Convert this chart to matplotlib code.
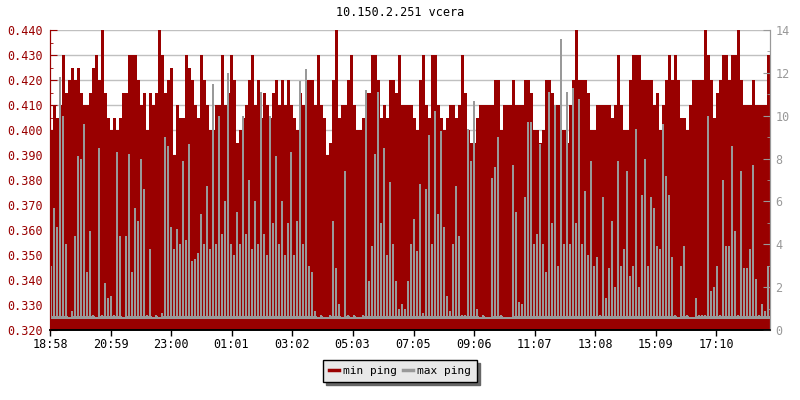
import numpy as np
import matplotlib
matplotlib.use('Agg')
import matplotlib.pyplot as plt
from matplotlib.lines import Line2D

title = '10.150.2.251 vcera'
time_labels = ['18:58', '20:59', '23:00', '01:01', '03:02', '05:03',
               '07:05', '09:06', '11:07', '13:08', '15:09', '17:10']
step_minutes = 6

# min ping, in microseconds (left axis, shown as ms)
min_ping = [400, 410, 405, 410, 430, 415, 420, 425, 420, 425, 415, 410, 410, 415, 425, 430, 420, 440, 415, 405,
            400, 405, 400, 405, 415, 415, 430, 430, 430, 420, 410, 415, 400, 415, 410, 415, 440, 430, 415, 420,
            425, 390, 410, 405, 405, 430, 425, 420, 410, 405, 430, 420, 410, 400, 400, 410, 410, 430, 410, 415,
            430, 420, 395, 400, 405, 410, 420, 430, 410, 420, 405, 415, 410, 405, 415, 420, 410, 420, 410, 420,
            410, 405, 400, 415, 410, 420, 420, 420, 410, 430, 410, 405, 390, 395, 420, 440, 405, 410, 410, 420,
            430, 410, 400, 400, 405, 415, 415, 430, 430, 420, 405, 410, 405, 420, 420, 415, 430, 410, 410, 410,
            410, 405, 400, 420, 430, 410, 405, 430, 430, 410, 405, 400, 405, 410, 410, 405, 410, 430, 415, 400,
            395, 395, 405, 410, 410, 410, 410, 410, 420, 420, 400, 410, 410, 410, 420, 410, 410, 410, 420, 420,
            415, 400, 400, 395, 400, 420, 420, 415, 410, 410, 400, 400, 395, 410, 420, 440, 420, 420, 420, 415,
            400, 400, 410, 410, 410, 410, 410, 405, 410, 430, 410, 400, 400, 420, 430, 430, 430, 420, 420, 420,
            420, 410, 415, 400, 410, 420, 430, 420, 430, 420, 405, 405, 400, 410, 420, 420, 420, 420, 440, 430,
            420, 405, 415, 420, 430, 430, 420, 430, 430, 440, 420, 410, 410, 410, 420, 410, 410, 410, 410, 430]

# max ping, in ms (right axis)
max_ping = [3, 5.7, 4.8, 11.8, 10, 4, 0.6, 0.9, 4.4, 8.1, 8, 9.6, 2.7, 4.6, 0.7, 0.6, 8.5, 0.7, 2.2, 1.5,
            1.6, 0.7, 8.3, 4.4, 0.6, 4.4, 8.2, 2.7, 5.7, 5.1, 8, 6.6, 0.7, 3.8, 0.6, 0.7, 0.6, 0.8, 9, 8.6,
            4.8, 3.8, 4.7, 4, 7.9, 4.2, 8.7, 3.2, 3.3, 3.6, 5.4, 4, 6.7, 3.8, 11.5, 4, 10, 4.5, 6, 12,
            4, 3.5, 5.5, 4, 10, 4.5, 7, 3.8, 6, 4, 11.1, 4.5, 3.5, 10, 5, 8.1, 4, 6, 3.5, 5,
            8.3, 3.5, 5.1, 11.6, 4, 12.2, 3, 2.7, 0.9, 0.6, 0.7, 0.6, 0.6, 0.7, 5.1, 2.9, 1.2, 0.6, 7.4, 0.7,
            0.6, 0.7, 0.6, 0.6, 0.7, 11.2, 2.3, 3.9, 8.2, 11.1, 5, 8.5, 3.5, 6.9, 4, 2.3, 1, 1.2, 1, 2.3,
            4, 5.2, 3.7, 6.8, 0.8, 6.6, 9.1, 4, 10.2, 5.4, 9.3, 4.8, 1.6, 0.9, 4, 6.7, 4.4, 0.7, 0.7, 9.4,
            7.9, 10.7, 1, 0.6, 0.7, 0.6, 0.6, 7.1, 7.6, 9, 0.7, 0.6, 0.6, 0.6, 7.7, 5.5, 1.3, 1.2, 6.2, 9.7,
            9.7, 4, 4.5, 8.7, 4, 2.7, 11.1, 5, 10.5, 3, 13.6, 4, 11.1, 4, 11.3, 5, 10.8, 4, 6.5, 3.5,
            7.9, 3, 3.4, 0.7, 6.2, 1.5, 2.9, 5.1, 2, 7.9, 3, 3.8, 7.4, 2.5, 3, 9.4, 2, 6.3, 8, 3,
            6.2, 5.7, 3.9, 3.8, 9.6, 7.2, 6.3, 3.4, 0.7, 0.6, 3, 3.9, 0.7, 0.6, 0.6, 1.5, 0.7, 0.7, 0.7, 10,
            1.8, 2, 3, 0.7, 7, 3.9, 3.9, 8.6, 4.6, 0.7, 7.4, 2.9, 2.9, 3.8, 7.7, 2.4, 0.7, 1.2, 0.9, 3]

red = '#990000'
gray = '#999999'
font = 'DejaVu Sans Mono'
plt.rcParams['font.family'] = font

n = len(min_ping)
t = np.arange(n) * step_minutes
x = np.arange(n + 1) * step_minutes
mn = np.array(min_ping + [min_ping[-1]]) / 1000.0
mx = np.array(max_ping, dtype=float)

fig = plt.figure(figsize=(8, 4), dpi=100)
ax = fig.add_axes([50 / 800, 70 / 400, 720 / 800, 300 / 400])
ax2 = ax.twinx()

ax.fill_between(x, 0.32, mn, step='post', color=red, lw=0)
# max ping as spikes from the min level, plus the flat band at the bottom
ax2.bar(t, mx - 0.5, bottom=0.5, width=4, align='edge', color=gray, lw=0)
base = np.minimum(np.append(mx, mx[-1]), 0.65)
ax2.fill_between(x, 0.5, base, step='post', color=gray, lw=0)

ax.set_xlim(0, n * step_minutes)
ax.set_ylim(0.32, 0.44)
ax2.set_ylim(0, 14)

# x ticks from the label times
h0, m0 = map(int, time_labels[0].split(':'))
pos = []
for lab in time_labels:
    h, m = map(int, lab.split(':'))
    pos.append(((h * 60 + m) - (h0 * 60 + m0)) % 1440)
ax.set_xticks(pos)
ax.set_xticklabels(time_labels)

ax.set_yticks(np.arange(0.32, 0.4401, 0.01))
ax.set_yticks(np.arange(0.325, 0.44, 0.01), minor=True)
ax.set_yticklabels(['%.3f' % v for v in np.arange(0.32, 0.4401, 0.01)])
ax2.set_yticks(np.arange(0, 15, 2))
ax2.set_yticks(np.arange(1, 14, 2), minor=True)

ax.set_axisbelow(True)
ax.grid(axis='y', color='#c0c0c0', lw=1)

ax.tick_params(axis='x', direction='out', length=4, width=1, color='black',
               labelsize=8.5, pad=2, labelcolor='black')
ax.tick_params(axis='y', which='major', direction='in', length=5, color=red,
               labelcolor=red, labelsize=8.5, pad=5)
ax.tick_params(axis='y', which='minor', direction='in', length=2.5, color=red)
ax2.tick_params(axis='y', which='major', direction='in', length=5, color=gray,
                labelcolor=gray, labelsize=8.5, pad=4)
ax2.tick_params(axis='y', which='minor', direction='in', length=2.5, color=gray)

for a in (ax, ax2):
    a.spines['top'].set_visible(False)
    a.spines['left'].set_color(red)
    a.spines['right'].set_color(gray)
    a.spines['bottom'].set_color('black')
    a.spines['bottom'].set_linewidth(1.2)

fig.text(0.5, 1 - 13 / 400, title, ha='center', va='center', fontsize=8.5)

handles = [Line2D([0], [0], color=red, lw=2.5), Line2D([0], [0], color=gray, lw=2.5)]
leg = fig.legend(handles, ['min ping', 'max ping'], loc='center', ncol=2,
                 bbox_to_anchor=(0.5, 1 - 371 / 400), bbox_transform=fig.transFigure,
                 fontsize=8, frameon=True, fancybox=False, framealpha=1,
                 facecolor='#e8e8e8', edgecolor='black', handlelength=0.9,
                 handletextpad=0.3, columnspacing=0.6, borderpad=0.55,
                 shadow={'color': '#666666', 'alpha': 1})
leg.get_frame().set_linewidth(1)

fig.savefig('out.png', dpi=100)
